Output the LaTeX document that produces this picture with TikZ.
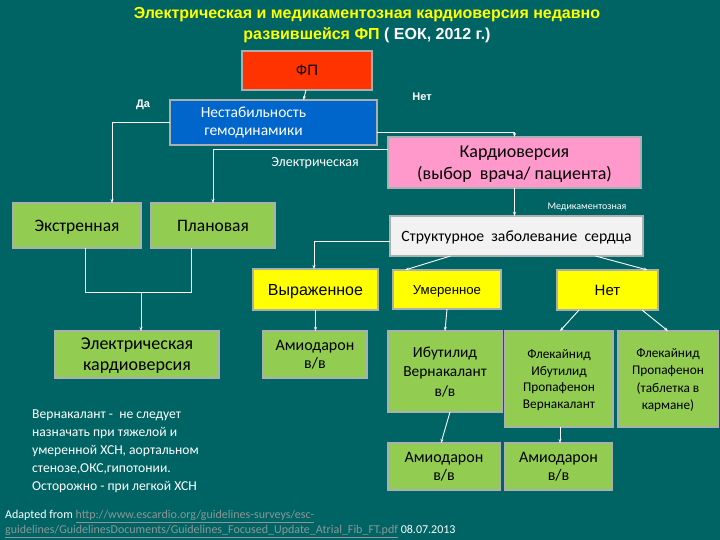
\documentclass[tikz,border=0pt]{standalone}
\usepackage{fontspec}
\setmainfont{Carlito}
\newfontfamily\arialfont{Liberation Sans}
\usetikzlibrary{arrows.meta}
\definecolor{bgteal}{RGB}{0,100,100}
\definecolor{boxgreen}{RGB}{146,204,80}
\definecolor{boxyellow}{RGB}{255,255,0}
\definecolor{boxblue}{RGB}{0,102,204}
\definecolor{boxred}{RGB}{255,51,0}
\definecolor{boxpink}{RGB}{255,153,204}
\definecolor{boxgray}{RGB}{242,242,242}
\definecolor{titleyellow}{RGB}{255,255,0}
\definecolor{linkgray}{RGB}{140,150,150}
\definecolor{edgegray}{RGB}{170,175,175}
\begin{document}
\begin{tikzpicture}[x=1pt,y=-1pt,
  box/.style={draw=edgegray,line width=1.2pt,inner sep=0pt,outer sep=0pt,align=center,text=black,text depth=0pt},
  green/.style={box,fill=boxgreen},
  yel/.style={box,fill=boxyellow},
  conn/.style={draw=white,line width=0.9pt},
  arr/.style={conn,-{Stealth[length=4pt,width=3pt]}},
  lbl/.style={text=white,inner sep=0pt}]
\fill[bgteal] (0,0) rectangle (720,540);
\useasboundingbox (0,0) rectangle (720,540);
% title
\node[inner sep=0pt,align=center,font=\arialfont\bfseries\fontsize{16}{21.5}\selectfont,text=titleyellow] (title) at (367,25)
 {Электрическая и медикаментозная кардиоверсия недавно\\развившейся ФП {\color{white}( ЕОК, 2012 г.)}};
% boxes
\node[box,fill=boxred,minimum width=130,minimum height=39,font=\arialfont\fontsize{15}{16}\selectfont] (fp) at (307,70.5) {ФП};
\node[draw=edgegray,line width=1.2pt,inner sep=0pt,outer sep=0pt,fill=boxblue,text=white,minimum width=207,minimum height=45,font=\fontsize{15.5}{18}\selectfont] (nest) at (273.5,122.5)
 {\begin{tabular}{@{}c@{}}Нестабильность\\гемодинамики\end{tabular}\hspace*{40pt}};
\node[box,fill=boxpink,minimum width=253,minimum height=51,font=\fontsize{18}{22}\selectfont] (kard) at (514.5,162.5)
 {Кардиоверсия\\(выбор \ врача/ пациента)};
\node[green,minimum width=128,minimum height=45,font=\fontsize{17.5}{19}\selectfont] (ekstr) at (77,225.5) {Экстренная};
\node[green,minimum width=124,minimum height=45,font=\fontsize{17.5}{19}\selectfont] (plan) at (213,225.5) {Плановая};
\node[box,fill=boxgray,minimum width=253,minimum height=40,font=\fontsize{15.7}{18}\selectfont] (struct) at (516.5,236)
 {Структурное \ заболевание \ сердца};
\node[yel,minimum width=125,minimum height=41,font=\arialfont\fontsize{16}{16}\selectfont] (vyr) at (315.5,289.5) {Выраженное};
\node[yel,minimum width=108,minimum height=39,font=\arialfont\fontsize{13.2}{16}\selectfont] (umer) at (447,289.5) {Умеренное};
\node[yel,minimum width=101,minimum height=40,font=\arialfont\fontsize{15}{16}\selectfont] (net) at (607.5,290) {Нет};
\node[green,minimum width=164,minimum height=47,font=\fontsize{18}{21}\selectfont] (elk) at (137,354.5) {Электрическая\\кардиоверсия};
\node[green,minimum width=104,minimum height=47,font=\fontsize{16}{18}\selectfont] (amio1) at (315,354.5) {Амиодарон\\в/в};
\node[green,minimum width=114,minimum height=81,font=\fontsize{15.4}{19.5}\selectfont] (ibut) at (445,371.5) {Ибутилид\\Вернакалант\\в/в};
\node[green,minimum width=108,minimum height=96,font=\fontsize{13.3}{16.7}\selectfont] (flek1) at (559,379) {Флекайнид\\Ибутилид\\Пропафенон\\Вернакалант};
\node[green,minimum width=100,minimum height=96,font=\fontsize{13.3}{17.3}\selectfont] (flek2) at (668,379) {Флекайнид\\Пропафенон\\(таблетка в\\кармане)};
\node[green,minimum width=112,minimum height=47,font=\fontsize{16}{18}\selectfont] (amio2) at (444,466.5) {Амиодарон\\в/в};
\node[green,minimum width=107,minimum height=47,font=\fontsize{16}{18}\selectfont] (amio3) at (558.5,466.5) {Амиодарон\\в/в};
% labels
\node[lbl,font=\arialfont\bfseries\fontsize{11}{13}\selectfont] (da) at (143,105) {Да};
\node[lbl,font=\arialfont\bfseries\fontsize{11}{13}\selectfont] (netlbl) at (422,97) {Нет};
\node[lbl,font=\fontsize{14}{15}\selectfont] (ellbl) at (315,163.5) {Электрическая};
\node[lbl,font=\fontsize{10}{11}\selectfont] (medlbl) at (587,207) {Медикаментозная};
\node[lbl,anchor=north west,align=left,font=\fontsize{13.6}{17.8}\selectfont] (note) at (32,410)
 {Вернакалант - \ не следует\\назначать при тяжелой и\\умеренной ХСН, аортальном\\стенозе,ОКС,гипотонии.\\Осторожно - при легкой ХСН};
\node[lbl,anchor=north west,align=left,font=\fontsize{12}{15}\selectfont] (src) at (5,510)
 {Adapted from {\color{linkgray}\underline{http://www.escardio.org/guidelines-surveys/esc-}}\\
 {\color{linkgray}\underline{guidelines/GuidelinesDocuments/Guidelines\_Focused\_Update\_Atrial\_Fib\_FT.pdf}} 08.07.2013};
% connectors
\draw[arr] ([xshift=-1pt]fp.south) -- ([xshift=30pt]nest.north);
\draw[arr] (nest.west) -| ([xshift=35pt]ekstr.north);
\draw[arr] ([yshift=-10pt]nest.east) -| (kard.north);
\draw[arr] ([yshift=13pt]kard.west) -| (plan.north);
\draw[arr] (kard.south) -- (kard.south |- struct.north);
\draw[arr] ([yshift=-5pt]struct.west) -| ([xshift=-1.5pt]vyr.north);
\draw[arr] ([xshift=-66pt]struct.south) -- ([xshift=-42pt]umer.north);
\draw[arr] ([xshift=79pt]struct.south) -- ([xshift=40pt]net.north);
\coordinate (join) at (141,292);
\draw[conn] ([xshift=8pt]ekstr.south) |- (join);
\draw[conn] ([xshift=-22pt]plan.south) |- (join);
\draw[arr] (join) -- ([xshift=4pt]elk.north);
\draw[arr] (vyr.south) -- (vyr.south |- amio1.north);
\draw[arr] (umer.south) -- ([xshift=-2pt]umer.south |- ibut.north);
\draw[arr] ([xshift=-28.5pt]net.south) -- ([xshift=1pt]flek1.north);
\draw[arr] ([xshift=34.5pt]net.south) -- (flek2.north);
\draw[arr] ([xshift=5pt]ibut.south) -- ([xshift=-3pt]amio2.north);
\draw[arr] ([xshift=1pt]flek1.south) -- ([xshift=1.5pt]amio3.north);
\end{tikzpicture}
\end{document}
